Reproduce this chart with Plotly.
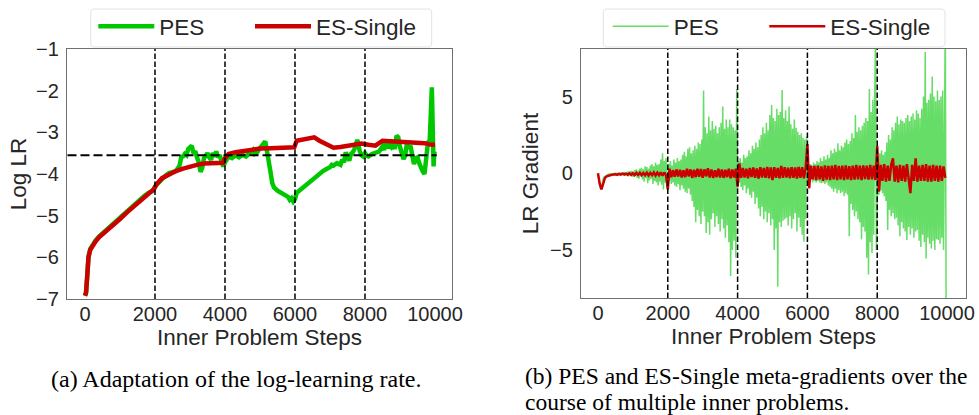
import plotly.graph_objects as go

# ---------------- data: (a) log learning rate ----------------
es_lr_steps = [0, 30, 60, 100, 150, 200, 300, 400, 600, 800, 1000, 1200, 1400, 1600, 1800, 1950,
               2000, 2050, 2200, 2400, 2600, 2800, 3000, 3200, 3400, 3600, 3800, 3950,
               4000, 4100, 4300, 4500, 4700, 5000, 5300, 5600, 5900, 5980,
               6050, 6200, 6400, 6550, 6700, 6900, 7100, 7300, 7500, 7700, 7900,
               8100, 8300, 8500, 8700, 8900, 9100, 9300, 9500, 9700, 9900, 10000]
es_lr = [-6.92, -6.85, -6.5, -6.0, -5.82, -5.74, -5.62, -5.52, -5.38, -5.22, -5.08, -4.92, -4.78, -4.62, -4.48, -4.38,
         -4.32, -4.24, -4.10, -4.00, -3.93, -3.87, -3.82, -3.78, -3.75, -3.74, -3.74, -3.73,
         -3.62, -3.52, -3.48, -3.45, -3.42, -3.39, -3.38, -3.37, -3.37, -3.36,
         -3.20, -3.17, -3.15, -3.12, -3.20, -3.30, -3.37, -3.35, -3.33, -3.31, -3.27,
         -3.30, -3.32, -3.20, -3.21, -3.22, -3.24, -3.23, -3.25, -3.26, -3.30, -3.29]

pes_lr_steps = [0, 30, 60, 100, 150, 200, 300, 400, 600, 800, 1000, 1200, 1400, 1500, 1600, 1700, 1800, 1900, 1950,
                2000, 2100, 2200, 2300, 2400, 2500, 2600, 2700, 2750, 2800, 2850, 2900, 2950,
                3000, 3050, 3100, 3150, 3200, 3250, 3300, 3350, 3400, 3450, 3500, 3550, 3600, 3650, 3700, 3750,
                3800, 3850, 3900, 3950, 4000, 4050, 4100, 4200, 4300, 4400, 4500, 4600, 4700, 4800, 4850, 4900,
                5000, 5050, 5100, 5150, 5200, 5250, 5300, 5350, 5400, 5500, 5600, 5700, 5800, 5850, 5900, 5950,
                6000, 6050, 6150, 6300, 6400, 6500, 6600, 6700, 6800, 6900, 7000, 7050, 7100, 7200, 7300, 7350,
                7400, 7450, 7500, 7550, 7600, 7650, 7700, 7780, 7850, 7900, 7950, 8000, 8050, 8100, 8200, 8300,
                8400, 8500, 8550, 8600, 8650, 8700, 8750, 8800, 8850, 8900, 8950, 9000, 9050, 9100, 9150, 9200,
                9250, 9300, 9350, 9400, 9450, 9500, 9550, 9600, 9650, 9700, 9750, 9800, 9850, 9880, 9910, 9935,
                9960, 9980, 10000]
pes_lr = [-6.92, -6.85, -6.5, -5.98, -5.80, -5.72, -5.60, -5.50, -5.35, -5.19, -5.04, -4.88, -4.72, -4.68, -4.60, -4.52, -4.46, -4.42, -4.40,
          -4.30, -4.20, -4.12, -4.04, -3.98, -3.96, -3.93, -3.80, -3.60, -3.58, -3.52, -3.55, -3.40,
          -3.36, -3.32, -3.50, -3.45, -3.60, -3.72, -3.95, -3.85, -3.62, -3.55, -3.50, -3.60, -3.66, -3.50, -3.58, -3.46,
          -3.60, -3.55, -3.70, -3.82, -3.72, -3.62, -3.58, -3.62, -3.55, -3.60, -3.54, -3.58, -3.48, -3.42, -3.52, -3.50,
          -3.38, -3.32, -3.30, -3.22, -3.45, -3.66, -3.95, -4.22, -4.32, -4.40, -4.46, -4.50, -4.55, -4.62, -4.58, -4.66,
          -4.60, -4.45, -4.38, -4.26, -4.20, -4.14, -4.07, -3.98, -3.93, -3.88, -3.84, -3.78, -3.80, -3.74, -3.78, -3.66,
          -3.72, -3.48, -3.62, -3.68, -3.52, -3.48, -3.40, -3.18, -3.45, -3.55, -3.58, -3.50, -3.56, -3.58, -3.52, -3.48,
          -3.46, -3.34, -3.42, -3.24, -3.38, -3.30, -3.35, -3.26, -3.40, -3.08, -3.12, -3.35, -3.46, -3.64, -3.56, -3.24,
          -3.40, -3.32, -3.55, -3.76, -3.62, -3.60, -3.74, -3.88, -3.94, -4.00, -3.70, -3.24, -3.20, -2.60, -1.92, -2.90,
          -3.82, -3.48, -3.52]

problem_boundaries = [2000, 4000, 6000, 8000]
ref_log_lr = -3.55
ref_line_span = [-500, 10050]

# ---------------- data: (b) meta-gradients ----------------
grad_pes_dx = 25
pes_grad = [
    # 0 - 1975
    0.0, -0.45, -0.85, -1.05, -0.95, -0.6, -0.35, -0.25, -0.2, -0.15,
    -0.12, -0.1, -0.06, -0.1, -0.04, -0.09, -0.03, -0.08, -0.02, -0.07,
    0.0, -0.08, 0.02, -0.1, 0.03, -0.06, 0.05, -0.12, 0.04, -0.1,
    0.08, -0.15, 0.05, -0.12, 0.1, -0.2, 0.12, -0.1, 0.15, -0.22,
    0.1, -0.25, 0.2, -0.15, 0.25, -0.3, 0.18, -0.35, 0.3, -0.2,
    0.35, -0.4, 0.25, -0.55, 0.45, -0.3, 0.4, -0.65, 0.3, -0.45,
    0.5, -0.35, 0.6, -0.7, 0.45, -0.5, 0.7, -0.6, 0.55, -0.8,
    0.6, -0.55, 0.9, -0.75, 1.3, -1.05, 0.8, -0.6, 1.0, -0.9,
    # 2000 - 3975
    -0.9, 0.6, -0.5, 0.8, -0.7, 0.5, -0.6, 0.9, -0.8, 0.7,
    -0.9, 1.0, -0.7, 0.8, -1.1, 0.9, -0.8, 1.2, -1.0, 1.4,
    -1.2, 1.1, -1.3, 1.6, -1.0, 1.7, -1.4, 1.3, -1.8, 1.5,
    -2.2, 1.8, -3.2, 1.6, -2.4, 2.0, -2.8, 1.9, -3.3, 2.2,
    -2.5, 5.4, -2.8, 3.0, -3.9, 2.6, -3.2, 3.7, -4.0, 2.8,
    -3.0, 3.4, -2.6, 2.9, -3.5, 3.1, -2.8, 2.6, -3.3, 3.0,
    -3.8, 3.3, -3.0, 4.35, -3.6, 2.9, -4.2, 3.5, -3.4, 3.0,
    -4.5, 3.5, -6.7, 3.2, -5.0, 3.0, -4.4, 2.8, -5.5, 5.5,
    # 4000 - 5975
    -1.0, 0.8, -0.6, 1.0, -0.9, 0.7, -1.1, 1.2, -0.8, 1.0,
    -1.3, 1.1, -1.0, 1.5, -1.4, 1.3, -1.6, 1.8, -1.2, 1.6,
    -2.0, 2.0, -1.6, 1.7, -2.3, 2.2, -2.8, 2.5, -2.2, 3.0,
    -3.0, 2.6, -2.5, 3.3, -3.2, 2.8, -2.6, 3.8, -3.4, 4.45,
    -3.0, 3.6, -5.0, 3.4, -3.6, 4.2, -7.4, 3.8, -3.2, 4.0,
    -3.5, 5.43, -3.1, 3.6, -3.0, 4.1, -2.9, 3.4, -3.4, 4.35,
    -2.8, 3.2, -3.6, 2.9, -3.0, 3.5, -2.6, 2.96, -3.8, 2.7,
    -2.9, 2.5, -3.5, 2.6, -4.0, 2.3, -4.46, 2.2, -3.0, 2.4,
    # 6000 - 7975
    -0.6, 0.5, -0.5, 0.6, -0.4, 0.5, -0.6, 0.7, -0.5, 0.6,
    -0.6, 0.8, -0.5, 0.7, -0.6, 1.0, -0.65, 0.8, -0.6, 1.1,
    -0.7, 0.9, -0.6, 1.2, -0.8, 1.0, -0.9, 1.5, -1.0, 1.3,
    -1.2, 1.6, -1.0, 1.4, -1.3, 1.96, -1.1, 1.5, -1.3, 1.8,
    -1.2, 1.7, -1.5, 2.0, -1.3, 2.2, -1.4, 1.9, -4.1, 2.1,
    -2.0, 2.6, -2.4, 2.3, -2.8, 3.8, -2.5, 2.7, -3.0, 3.0,
    -3.2, 2.8, -4.3, 3.1, -3.5, 3.3, -3.8, 3.6, -5.5, 3.4,
    -6.6, 5.5, -4.5, 4.0, -5.2, 4.8, -4.0, 4.3, 9.0, -5.0,
    # 8000 - 9975
    -1.2, 1.0, -1.4, 1.3, -1.1, 1.5, -1.3, 1.2, -1.5, 1.4,
    -1.8, 2.0, -3.7, 2.5, -2.4, 2.2, -2.8, 3.0, -2.6, 2.8,
    -3.0, 3.3, -2.9, 3.7, -3.4, 3.2, -4.1, 3.5, -3.2, 3.4,
    -3.6, 3.3, -3.8, 3.6, -4.35, 3.8, -3.5, 3.4, -4.0, 3.7,
    -3.6, 3.9, -4.2, 3.5, -3.8, 4.1, -3.7, 3.9, -4.4, 3.6,
    -4.8, 4.2, -4.0, 5.0, -4.5, 7.9, -5.55, 4.6, -4.2, 4.8,
    -4.6, 5.2, -4.9, 6.3, -4.4, 5.0, -5.0, 4.7, -4.3, 5.4,
    -4.35, 4.78, -4.6, 5.0, -4.2, 5.4, -5.0, 4.5, 10.0, -10.0,
]

grad_es_dx = 50
es_grad = [
    # 0 - 1950
    0.0, -0.7, -1.05, -0.6, -0.3, -0.2, -0.15, -0.12, -0.1, -0.08,
    -0.06, -0.1, -0.04, -0.09, -0.03, -0.08, -0.02, -0.09, -0.01, -0.1,
    0.0, -0.12, 0.02, -0.1, 0.03, -0.13, 0.02, -0.12, 0.04, -0.14,
    0.03, -0.12, 0.05, -0.15, 0.04, -0.13, 0.06, -0.16, 0.05, -0.14,
    # 2000 - 3950
    -1.05, 0.3, -0.25, 0.2, -0.22, 0.25, -0.2, 0.22, -0.28, 0.2,
    -0.25, 0.3, -0.2, 0.25, -0.3, 0.22, -0.25, 0.3, -0.22, 0.28,
    -0.3, 0.25, -0.2, 0.33, -0.28, 0.25, -0.3, 0.2, -0.25, 0.3,
    -0.28, 0.25, -0.3, 0.22, -0.25, 0.3, -0.33, 0.25, -0.28, 0.3,
    # 4000 - 5950
    -0.87, 0.65, -0.3, 0.35, -0.28, 0.3, -0.32, 0.35, -0.25, 0.38,
    -0.3, 0.32, -0.35, 0.4, -0.28, 0.35, -0.3, 0.42, -0.33, 0.38,
    -0.45, 0.4, -0.3, 0.35, -0.33, 0.48, -0.3, 0.4, -0.28, 0.36,
    -0.32, 0.4, -0.3, 0.38, -0.35, 0.42, -0.3, 0.4, -0.33, 0.36,
    # 6000 - 7950
    1.9, -0.98, 0.5, -0.4, 0.48, -0.45, 0.5, -0.4, 0.45, -0.5,
    0.52, -0.42, 0.48, -0.45, 0.5, -0.4, 0.55, -0.44, 0.48, -0.4,
    0.5, -0.45, 0.52, -0.4, 0.46, -0.44, 0.5, -0.42, 0.55, -0.4,
    0.5, -0.45, 0.52, -0.38, 0.5, -0.42, 0.55, -0.4, 0.5, -0.44,
    # 8000 - 9950
    1.78, -1.2, 0.55, -0.5, 0.6, -0.55, 0.5, -0.5, 0.55, 0.98,
    -0.55, 0.5, -0.6, 0.55, -0.5, 0.5, -0.55, 0.6, -0.5, -1.3,
    0.55, -0.5, 0.98, -0.55, 0.5, -0.5, 0.55, -0.5, 0.6, -0.55,
    0.5, -0.55, 0.55, -0.5, 0.5, -0.55, 0.5, -0.5, 0.45, -0.3,
]

x_ticks = [0, 2000, 4000, 6000, 8000, 10000]
x_tick_labels = ["0", "2000", "4000", "6000", "8000", "10000"]
left_y_ticks = [-7, -6, -5, -4, -3, -2, -1]
right_y_ticks = [-5, 0, 5]

caption_a = "(a) Adaptation of the log-learning rate."
caption_b_lines = ["(b) PES and ES-Single meta-gradients over the",
                   "course of multiple inner problems."]

# ---------------- figure ----------------
W, H = 979, 415
SANS = "Liberation Sans, Arial, sans-serif"
SERIF = "Liberation Serif, Times New Roman, serif"
TXT = "#262626"
GREEN = "#00c800"
LIGHT_GREEN = "#66dd66"
RED = "#cc0000"


def px_x(p):
    return p / W


def px_y(p):
    return 1 - p / H


fig = go.Figure()
fig.add_trace(go.Scatter(x=pes_lr_steps, y=pes_lr, mode="lines", name="PES",
                         line=dict(color=GREEN, width=4.5), xaxis="x", yaxis="y", legend="legend"))
fig.add_trace(go.Scatter(x=es_lr_steps, y=es_lr, mode="lines", name="ES-Single",
                         line=dict(color=RED, width=4.5), xaxis="x", yaxis="y", legend="legend3"))
fig.add_trace(go.Scatter(x0=0, dx=grad_pes_dx, y=pes_grad, mode="lines", name="PES",
                         line=dict(color=LIGHT_GREEN, width=1.5), xaxis="x2", yaxis="y2", legend="legend2"))
fig.add_trace(go.Scatter(x0=0, dx=grad_es_dx, y=es_grad, mode="lines", name="ES-Single",
                         line=dict(color=RED, width=2.5), xaxis="x2", yaxis="y2", legend="legend4"))

shapes = []
for xref, yref in (("x", "y domain"), ("x2", "y2 domain")):
    for b in problem_boundaries:
        shapes.append(dict(type="line", xref=xref, yref=yref, x0=b, x1=b, y0=0, y1=1,
                           line=dict(color="black", width=1.5, dash="5.5px,2.5px"), layer="above"))
shapes.append(dict(type="line", xref="x", yref="y", x0=ref_line_span[0], x1=ref_line_span[1],
                   y0=ref_log_lr, y1=ref_log_lr,
                   line=dict(color="black", width=2, dash="9px,4px"), layer="above"))


def rounded_box(x0, y0, x1, y1, r=4):
    pts = [
        ("M", x0 + r, y0), ("L", x1 - r, y0), ("Q", x1, y0, x1, y0 + r),
        ("L", x1, y1 - r), ("Q", x1, y1, x1 - r, y1), ("L", x0 + r, y1),
        ("Q", x0, y1, x0, y1 - r), ("L", x0, y0 + r), ("Q", x0, y0, x0 + r, y0),
    ]
    parts = []
    for p in pts:
        cmd, coords = p[0], p[1:]
        xy = []
        for i in range(0, len(coords), 2):
            xy.append(f"{px_x(coords[i]):.5f},{px_y(coords[i + 1]):.5f}")
        parts.append(cmd + " ".join(xy))
    return dict(type="path", xref="paper", yref="paper", path=" ".join(parts) + " Z",
                fillcolor="white", line=dict(color="#e2e2e2", width=1), layer="below")


shapes.append(rounded_box(90.7, 9, 431.7, 47))
shapes.append(rounded_box(603.3, 9, 945, 47))

axis_common = dict(showline=True, mirror=True, linecolor="#6f6f6f", linewidth=1.3, ticks="",
                   showgrid=False, zeroline=False, automargin=False,
                   tickfont=dict(family=SANS, size=20, color=TXT))
title_font = dict(family=SANS, size=22.5, color=TXT)
legend_common = dict(orientation="h", xanchor="left", yanchor="top",
                     bgcolor="rgba(0,0,0,0)", borderwidth=0, itemwidth=56,
                     font=dict(family=SANS, size=22.5, color=TXT))

fig.update_layout(
    width=W, height=H, margin=dict(l=0, r=0, t=0, b=0),
    paper_bgcolor="white", plot_bgcolor="white",
    font=dict(family=SANS, color=TXT),
    showlegend=True,
    xaxis=dict(domain=[px_x(67), px_x(452)], range=[-514, 10486], tickvals=x_ticks, ticktext=x_tick_labels,
               anchor="y", ticklabelstandoff=-3,
               title=dict(text="Inner Problem Steps", font=title_font, standoff=5),
               **axis_common),
    yaxis=dict(domain=[px_y(299), px_y(49)], range=[-7, -1], tickvals=left_y_ticks,
               anchor="x", ticklabelstandoff=3,
               title=dict(text="Log LR", font=title_font, standoff=3),
               **axis_common),
    xaxis2=dict(domain=[px_x(581), px_x(966)], range=[-486, 10543], tickvals=x_ticks, ticktext=x_tick_labels,
                anchor="y2", ticklabelstandoff=-3,
                title=dict(text="Inner Problem Steps", font=title_font, standoff=5),
                **axis_common),
    yaxis2=dict(domain=[px_y(298), px_y(49)], range=[-8.13, 8.1], tickvals=right_y_ticks,
                anchor="x2", ticklabelstandoff=3,
                title=dict(text="LR Gradient", font=title_font, standoff=5),
                **axis_common),
    legend=dict(x=px_x(93.3), y=px_y(5), **legend_common),
    legend3=dict(x=px_x(250), y=px_y(5), **legend_common),
    legend2=dict(x=px_x(607.7), y=px_y(5), **legend_common),
    legend4=dict(x=px_x(764.3), y=px_y(5), **legend_common),
    shapes=shapes,
    annotations=[
        dict(text=caption_a, xref="paper", yref="paper", x=px_x(236), y=px_y(379),
             xanchor="center", yanchor="middle", showarrow=False,
             font=dict(family=SERIF, size=24, color="black")),
        dict(text=caption_b_lines[0], xref="paper", yref="paper", x=px_x(523), y=px_y(376),
             xanchor="left", yanchor="middle", align="left", showarrow=False,
             font=dict(family=SERIF, size=23.5, color="black")),
        dict(text=caption_b_lines[1], xref="paper", yref="paper", x=px_x(523), y=px_y(402),
             xanchor="left", yanchor="middle", align="left", showarrow=False,
             font=dict(family=SERIF, size=23.5, color="black")),
    ],
)

fig.write_html("out.html")
